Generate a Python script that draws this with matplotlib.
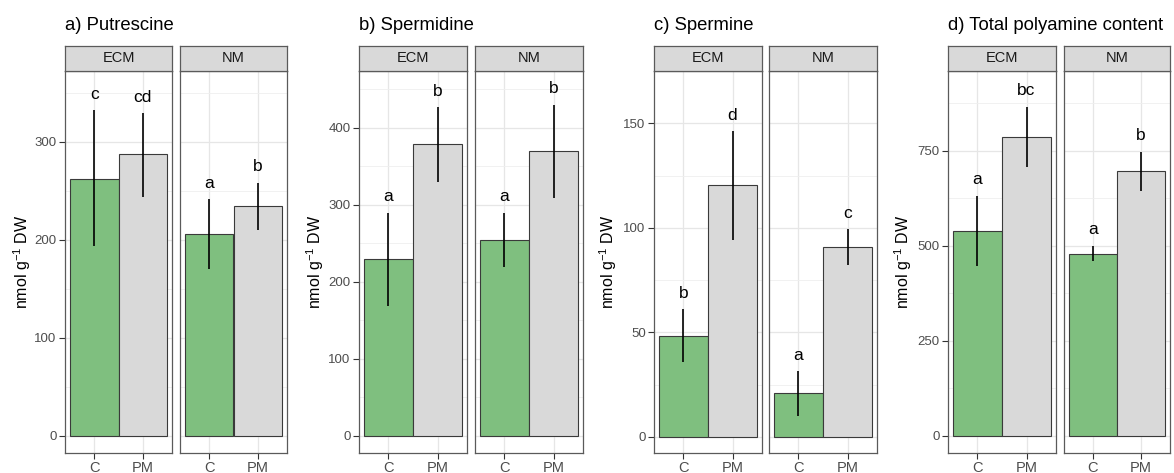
import matplotlib
matplotlib.use('Agg')
import matplotlib.pyplot as plt

plt.rcParams['font.family'] = ['Liberation Sans', 'DejaVu Sans']
plt.rcParams['mathtext.fontset'] = 'custom'
plt.rcParams['mathtext.rm'] = 'Liberation Sans'
plt.rcParams['mathtext.it'] = 'Liberation Sans:italic'

# data (means, error bar limits, letters)
treatments = ['C', 'PM']
facets = ['ECM', 'NM']
titles = ['a) Putrescine', 'b) Spermidine', 'c) Spermine', 'd) Total polyamine content']

put_mean = {'ECM': [262, 287], 'NM': [206, 234]}
put_low = {'ECM': [193, 243], 'NM': [170, 210]}
put_up = {'ECM': [332, 329], 'NM': [241, 258]}
put_let = {'ECM': ['c', 'cd'], 'NM': ['a', 'b']}

spd_mean = {'ECM': [229, 379], 'NM': [254, 370]}
spd_low = {'ECM': [168, 330], 'NM': [219, 309]}
spd_up = {'ECM': [290, 427], 'NM': [290, 430]}
spd_let = {'ECM': ['a', 'b'], 'NM': ['a', 'b']}

spm_mean = {'ECM': [48.4, 120.5], 'NM': [21, 90.7]}
spm_low = {'ECM': [36, 94], 'NM': [10, 82]}
spm_up = {'ECM': [61.3, 146.5], 'NM': [31.5, 99.6]}
spm_let = {'ECM': ['b', 'd'], 'NM': ['a', 'c']}

tot_mean = {'ECM': [540, 787], 'NM': [479, 697]}
tot_low = {'ECM': [447, 708], 'NM': [461, 645]}
tot_up = {'ECM': [632, 866], 'NM': [500, 747]}
tot_let = {'ECM': ['a', 'bc'], 'NM': ['a', 'b']}

yticks = [[0, 100, 200, 300], [0, 100, 200, 300, 400], [0, 50, 100, 150], [0, 250, 500, 750]]
ylims = [(-17.7, 372), (-22.5, 474), (-7.7, 162), (-45.5, 960)]

all_data = [
    (put_mean, put_low, put_up, put_let),
    (spd_mean, spd_low, spd_up, spd_let),
    (spm_mean, spm_low, spm_up, spm_let),
    (tot_mean, tot_low, tot_up, tot_let),
]

W, H = 1174, 473
fig = plt.figure(figsize=(W / 100, H / 100), dpi=100)

def px_axes(x0, x1, ytop, ybot):
    return fig.add_axes([x0 / W, (H - ybot) / H, (x1 - x0) / W, (ybot - ytop) / H])

panel_x = [[(65, 172), (180, 287)], [(359, 467), (475, 583)],
           [(654, 762), (769, 877)], [(948, 1056), (1064, 1170)]]
ylab_x = [22, 315, 608, 903]
bar_cols = ['#7fbf7f', '#d9d9d9']
border = '#5a5a5a'

for i, (mean, low, up, let) in enumerate(all_data):
    lo, hi = ylims[i]
    rng = hi - lo
    for j, f in enumerate(facets):
        x0, x1 = panel_x[i][j]
        ax = px_axes(x0, x1, 71, 453)
        xs = [1, 2]
        ax.bar(xs, mean[f], width=1.0, color=bar_cols, edgecolor='#3a3a3a', linewidth=0.8, zorder=3)
        ax.vlines(xs, low[f], up[f], color='black', linewidth=1.2, zorder=4)
        for x, u, t in zip(xs, up[f], let[f]):
            ax.text(x, u + 0.03 * rng, t, ha='center', va='baseline', fontsize=12.5, color='black', zorder=5)
        ax.set_xlim(0.4, 2.6)
        ax.set_ylim(lo, hi)
        ax.set_xticks(xs)
        ax.set_xticklabels(treatments)
        ax.set_yticks(yticks[i])
        step = yticks[i][1] - yticks[i][0]
        minors = [t + step / 2 for t in yticks[i]]
        ax.set_yticks(minors, minor=True)
        ax.grid(True, which='major', color='#e6e6e6', linewidth=0.9, zorder=0)
        ax.grid(True, which='minor', axis='y', color='#efefef', linewidth=0.6, zorder=0)
        ax.set_axisbelow(True)
        ax.tick_params(axis='both', which='major', length=4, width=0.8, color='#333333',
                       labelcolor='#4d4d4d', pad=2)
        ax.tick_params(axis='x', labelsize=10.5)
        ax.tick_params(axis='y', labelsize=9.5)
        ax.tick_params(which='minor', length=0)
        if j == 1:
            ax.tick_params(axis='y', left=False, labelleft=False)
        for s in ax.spines.values():
            s.set_color(border)
            s.set_linewidth(0.9)

        # strip
        sax = px_axes(x0, x1, 46, 71)
        sax.set_facecolor('#d9d9d9')
        sax.set_xticks([])
        sax.set_yticks([])
        for s in sax.spines.values():
            s.set_color(border)
            s.set_linewidth(0.9)
        sax.text(0.5, 0.5, f, ha='center', va='center', fontsize=10.5, color='#1a1a1a',
                 transform=sax.transAxes)

    fig.text(panel_x[i][0][0] / W, 1 - 30 / H, titles[i], ha='left', va='baseline', fontsize=13.3)
    fig.text(ylab_x[i] / W, 1 - 262 / H, r'nmol g$^{-1}$ DW', rotation=90, ha='center',
             va='center', fontsize=11.5)

fig.savefig('out.png', dpi=100)
